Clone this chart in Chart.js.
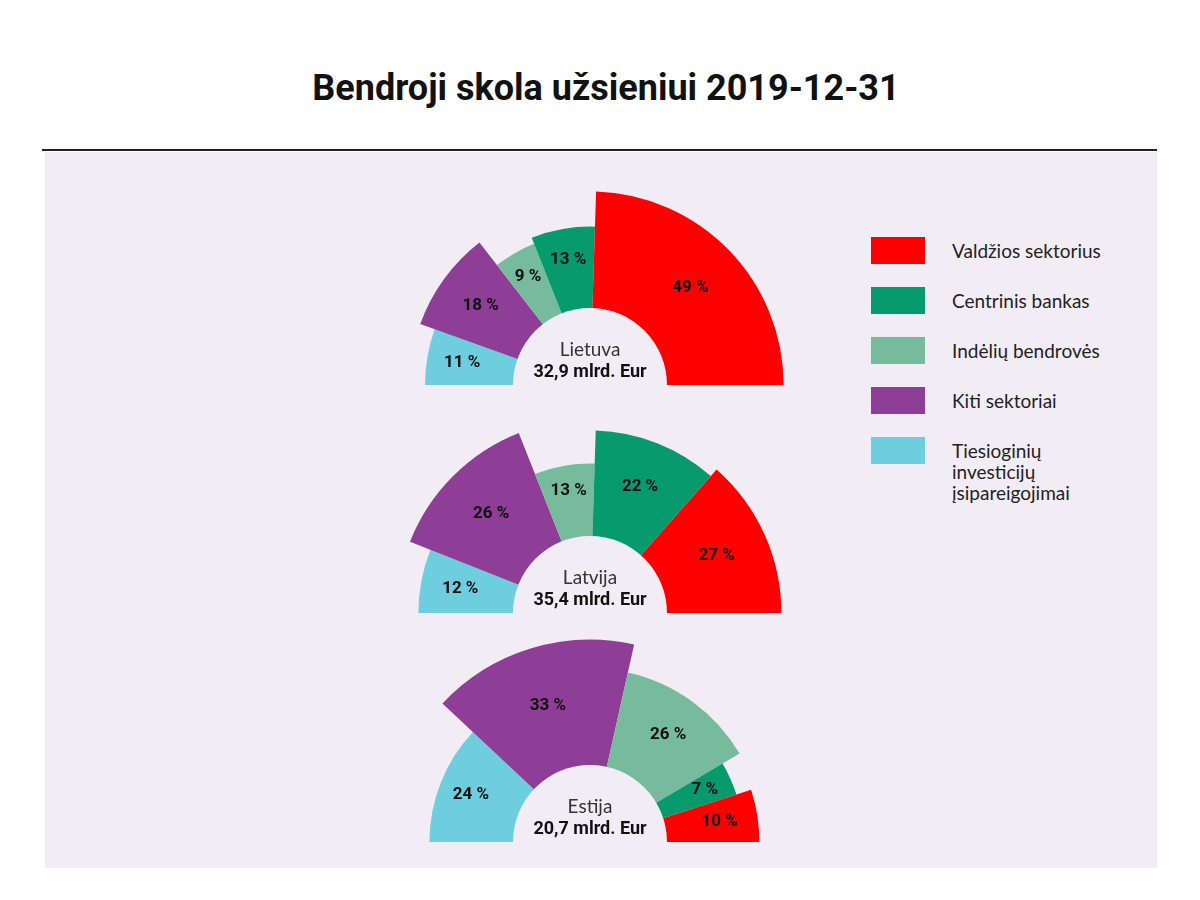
<!DOCTYPE html>
<html>
<head>
<meta charset="utf-8">
<script src="https://cdn.jsdelivr.net/npm/chart.js@4.4.1/dist/chart.umd.min.js"></script>
<style>
  body { margin: 0; width: 1200px; height: 900px; background: #fff; position: relative; overflow: hidden; }
  #title { position: absolute; left: 0; top: 70px; width: 1212px; text-align: center;
           font: bold 36px/36px Roboto, sans-serif; color: #111; }
  #rule { position: absolute; left: 42px; top: 149px; width: 1115px; height: 2px; background: #222; }
  #panel { position: absolute; left: 45px; top: 152px; width: 1112px; height: 716px; background: #f2edf5; }
  .wrap { position: absolute; left: 370px; width: 440px; height: 220px; overflow: hidden; }
  .legend-item { position: absolute; left: 871px; }
  .legend-box { position: absolute; left: 0; top: 0; width: 54px; height: 27px; }
  .legend-text { position: absolute; left: 81px; top: 3px; width: 160px;
                 font: 19px/21px Lato, sans-serif; color: #222; }
</style>
</head>
<body>
<div id="panel"></div>
<div id="title">Bendroji skola užsieniui 2019-12-31</div>
<div id="rule"></div>
<div class="wrap" style="top:165px"><canvas id="lt" width="440" height="440"></canvas></div>
<div class="wrap" style="top:393px"><canvas id="lv" width="440" height="440"></canvas></div>
<div class="wrap" style="top:622px"><canvas id="ee" width="440" height="440"></canvas></div>
<div id="legend"></div>
<script>
const categories = ['Valdžios sektorius', 'Centrinis bankas', 'Indėlių bendrovės', 'Kiti sektoriai', 'Tiesioginių investicijų įsipareigojimai'];
const colors = ['#ff0000', '#079a6c', '#75bb9c', '#8e3e96', '#6ecedd'];

const countries = ['Lietuva', 'Latvija', 'Estija'];
const totals = ['32,9', '35,4', '20,7']; // mlrd. Eur

// share of total debt, % (sets the angle of each sector)
const ltShare = [49, 13, 9, 18, 11];
const lvShare = [27, 22, 13, 26, 12];
const eeShare = [10, 7, 26, 33, 24];

// radial length of each sector, relative scale 0-100
const ltLength = [88, 72, 69, 82, 75];
const lvLength = [87, 83, 68, 88, 78];
const eeLength = [77, 70, 79, 92, 73];

const holeValue = 35;
const panelColor = '#f2edf5';

// html legend
const legend = document.getElementById('legend');
categories.forEach((name, i) => {
    const item = document.createElement('div');
    item.className = 'legend-item';
    item.style.top = (237 + i * 50) + 'px';
    item.innerHTML = '<div class="legend-box" style="background:' + colors[i] + '"></div>' +
                     '<div class="legend-text">' + name + '</div>';
    legend.appendChild(item);
});

function halfRing(canvasId, country, total, shares, lengths) {
    const ctx = document.getElementById(canvasId).getContext('2d');
    const order = [4, 3, 2, 1, 0]; // drawn clockwise from the left side

    const labelsPlugin = {
        id: 'ringLabels',
        afterDatasetsDraw(chart) {
            const c = chart.ctx;
            const scale = chart.scales.r;
            const cx = scale.xCenter, cy = scale.yCenter;
            c.save();
            // hole in the middle
            c.fillStyle = panelColor;
            c.beginPath();
            c.arc(cx, cy, scale.getDistanceFromCenterForValue(holeValue), 0, 2 * Math.PI);
            c.fill();

            c.textAlign = 'center';
            c.textBaseline = 'middle';
            c.fillStyle = '#111';
            c.font = 'bold 17px Roboto';
            chart.getDatasetMeta(0).data.forEach((arc, i) => {
                const mid = (arc.startAngle + arc.endAngle) / 2;
                const r = 72 + 0.35 * arc.outerRadius;
                c.fillText(shares[order[i]] + ' %', cx + r * Math.cos(mid), cy + r * Math.sin(mid));
            });

            c.textBaseline = 'alphabetic';
            c.fillStyle = '#333';
            c.font = '19px Lato';
            c.fillText(country, cx, cy - 29);
            c.fillStyle = '#111';
            c.font = 'bold 18px Roboto';
            c.fillText(total + ' mlrd. Eur', cx, cy - 8);
            c.restore();
        }
    };

    new Chart(ctx, {
        type: 'polarArea',
        data: {
            labels: order.map(i => categories[i]),
            datasets: [{
                data: order.map(i => lengths[i]),
                angle: order.map(i => shares[i] * 1.8),
                backgroundColor: order.map(i => colors[i]),
                borderWidth: 0
            }]
        },
        options: {
            responsive: false,
            animation: false,
            events: [],
            layout: { padding: 0 },
            scales: {
                r: {
                    min: 0,
                    max: 100,
                    startAngle: -90,
                    grid: { display: false },
                    angleLines: { display: false },
                    pointLabels: { display: false },
                    ticks: { display: false }
                }
            },
            plugins: {
                legend: { display: false },
                tooltip: { enabled: false }
            }
        },
        plugins: [labelsPlugin]
    });
}

halfRing('lt', countries[0], totals[0], ltShare, ltLength);
halfRing('lv', countries[1], totals[1], lvShare, lvLength);
halfRing('ee', countries[2], totals[2], eeShare, eeLength);
</script>
</body>
</html>
